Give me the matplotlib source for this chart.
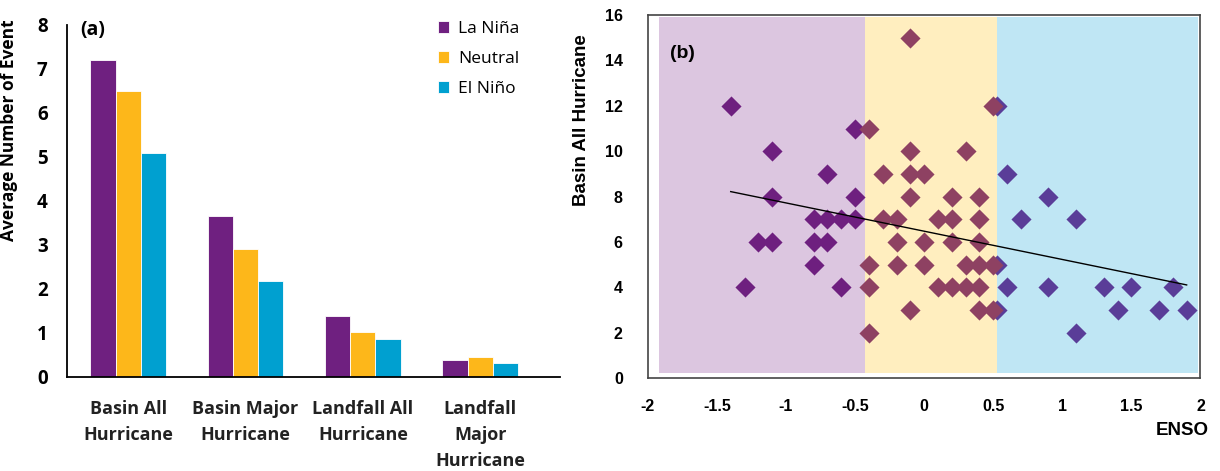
import numpy as np
import matplotlib.pyplot as plt

# ---- panel (a) data
categories = ['Basin All\nHurricane', 'Basin Major\nHurricane', 'Landfall All\nHurricane', 'Landfall\nMajor\nHurricane']
la_nina = [7.2, 3.65, 1.38, 0.38]
neutral = [6.5, 2.9, 1.03, 0.45]
el_nino = [5.1, 2.17, 0.87, 0.32]

# ---- panel (b) data (ENSO index, basin hurricane count)
nina_x = [-1.4, -0.5, -1.1, -0.7, -1.1, -0.5, -0.8, -0.7, -0.6, -0.5, -1.2, -1.1, -0.8, -0.7, -0.8, -1.3, -0.6]
nina_y = [12, 11, 10, 9, 8, 8, 7, 7, 7, 7, 6, 6, 6, 6, 5, 4, 4]
neut_x = [-0.4, -0.1, 0.5, -0.1, 0.3, -0.3, -0.1, 0.0, -0.1, 0.2, 0.4, -0.3, -0.2, 0.1, 0.2, 0.4,
          -0.2, 0.0, 0.2, 0.4, -0.4, -0.2, 0.0, 0.3, 0.4, 0.5, -0.4, 0.1, 0.2, 0.3, 0.4,
          -0.1, 0.4, 0.5, -0.4]
neut_y = [11, 15, 12, 10, 10, 9, 9, 9, 8, 8, 8, 7, 7, 7, 7, 7,
          6, 6, 6, 6, 5, 5, 5, 5, 5, 5, 4, 4, 4, 4, 4,
          3, 3, 3, 2]
nino_x = [0.53, 0.6, 0.9, 0.7, 1.1, 0.53, 0.6, 0.9, 1.3, 1.5, 1.8, 0.53, 1.4, 1.7, 1.9, 1.1]
nino_y = [12, 9, 8, 7, 7, 5, 4, 4, 4, 4, 4, 3, 3, 3, 3, 2]
phase_bounds = [-1.92, -0.43, 0.53, 1.98]

bar_colors = ['#6F2080', '#FDB71A', '#00A0D0']
shade_colors = ['#DCC6E0', '#FFEEBF', '#BFE6F4']
pt_colors = ['#6E1F7F', '#8E4162', '#5A3D98']

fig = plt.figure(figsize=(12.2, 4.71), dpi=100)

# ---------------- (a)
ax1 = fig.add_axes([0.055, 0.2, 0.404, 0.747])
pos = np.arange(len(categories))
w = 0.215
ax1.bar(pos - w, la_nina, w, color=bar_colors[0], label='La Niña', edgecolor='white', linewidth=0.6)
ax1.bar(pos, neutral, w, color=bar_colors[1], label='Neutral', edgecolor='white', linewidth=0.6)
ax1.bar(pos + w, el_nino, w, color=bar_colors[2], label='El Niño', edgecolor='white', linewidth=0.6)
ax1.set_xlim(-0.52, 3.68)
ax1.set_ylim(0, 8)
ax1.set_xticks(pos)
ax1.set_xticklabels(categories, fontsize=13, fontweight='bold', family='Open Sans', color='#222222',
                    linespacing=1.56)
ax1.set_yticks(range(9))
ax1.set_yticklabels([str(i) for i in range(9)], fontsize=13.5, fontweight='bold', family='Open Sans')
ax1.tick_params(axis='x', length=0, pad=17)
ax1.tick_params(axis='y', length=0, pad=14)
for s in ['top', 'right']:
    ax1.spines[s].set_visible(False)
ax1.spines['left'].set_linewidth(1.3)
ax1.spines['bottom'].set_linewidth(1.3)
ax1.set_ylabel('Average Number of Event', fontsize=12.5, fontweight='bold', family='Open Sans')
ax1.yaxis.set_label_coords(-0.1, 0.7)
ax1.text(0.027, 0.986, '(a)', transform=ax1.transAxes, fontsize=14, fontweight='bold', family='Open Sans',
         va='center')
leg = ax1.legend(loc='upper right', bbox_to_anchor=(0.95, 1.055), frameon=False, handlelength=0.65,
                 handleheight=0.65, handletextpad=0.55, labelspacing=0.8,
                 prop={'family': 'Open Sans', 'size': 12.5})

# ---------------- (b)
ax2 = fig.add_axes([0.531, 0.197, 0.453, 0.771])
for i in range(3):
    ax2.axvspan(phase_bounds[i], phase_bounds[i + 1], ymin=0.015, ymax=0.995, color=shade_colors[i],
                linewidth=0, zorder=0)
ax2.scatter(nino_x, nino_y, marker='D', s=105, color=pt_colors[2], zorder=3, linewidths=0)
ax2.scatter(nina_x, nina_y, marker='D', s=105, color=pt_colors[0], zorder=3, linewidths=0)
ax2.scatter(neut_x, neut_y, marker='D', s=105, color=pt_colors[1], zorder=4, linewidths=0)

all_x = np.array(nina_x + neut_x + nino_x)
all_y = np.array(nina_y + neut_y + nino_y)
k, b = np.polyfit(all_x, all_y, 1)
xl = np.array([all_x.min(), all_x.max()])
ax2.plot(xl, k * xl + b, color='black', linewidth=1, zorder=5)

ax2.set_xlim(-2, 2)
ax2.set_ylim(0, 16)
ax2.set_xticks(np.arange(-2, 2.01, 0.5))
ax2.set_xticklabels(['-2', '-1.5', '-1', '-0.5', '0', '0.5', '1', '1.5', '2'])
ax2.set_yticks(range(0, 17, 2))
narrow = ['Liberation Sans', 'DejaVu Sans']
for lab in ax2.get_xticklabels() + ax2.get_yticklabels():
    lab.set_family(narrow)
    lab.set_fontweight('bold')
    lab.set_fontsize(11.5)
ax2.tick_params(axis='x', length=0, pad=15)
ax2.tick_params(axis='y', length=0, pad=18)
for s in ax2.spines.values():
    s.set_color('#444444')
    s.set_linewidth(1.2)
ax2.set_ylabel('Basin All Hurricane', fontsize=13.5, fontweight='bold', family=narrow)
ax2.yaxis.set_label_coords(-0.105, 0.71)
ax2.set_xlabel('ENSO', fontsize=13.5, fontweight='bold', family=narrow)
ax2.xaxis.set_label_coords(0.967, -0.143)
ax2.xaxis.label.set_verticalalignment('center')
ax2.text(-1.84, 14.3, '(b)', fontsize=14, fontweight='bold', family=narrow, va='center')

fig.savefig('out.png', dpi=100)
